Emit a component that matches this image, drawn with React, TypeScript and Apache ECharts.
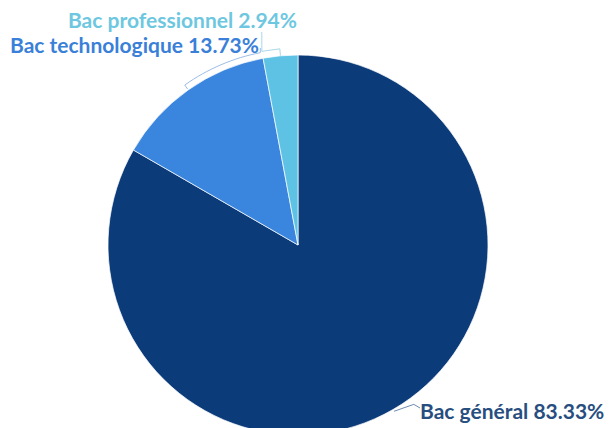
import React, { useEffect, useRef } from "react";
import * as echarts from "echarts";

const categories = ["Bac général", "Bac technologique", "Bac professionnel"];
const values = [83.33, 13.73, 2.94];
const sliceColors = ["#0c3b7a", "#3a86df", "#5ec2e4"];
const labelColors = ["#284e80", "#3a80d8", "#6ec7e0"];

const CX = 298;
const CY = 245;
const R = 190;

export default function App() {
  const ref = useRef<HTMLDivElement>(null);
  useEffect(() => {
    if (!ref.current) return;
    const chart = echarts.init(ref.current, undefined, { renderer: "svg" });
    const total = values.reduce((a, b) => a + b, 0);
    // angles in degrees (math convention), clockwise from 90
    const angles: { start: number; end: number; mid: number }[] = [];
    let a = 90;
    values.forEach((v) => {
      const span = (v / total) * 360;
      angles.push({ start: a, end: a - span, mid: a - span / 2 });
      a -= span;
    });
    const pt = (deg: number, r: number) => {
      const t = (deg * Math.PI) / 180;
      return [CX + r * Math.cos(t), CY - r * Math.sin(t)];
    };
    const arc = (from: number, to: number, r: number) => {
      const pts: number[][] = [];
      const n = 16;
      for (let i = 0; i <= n; i++) pts.push(pt(from + ((to - from) * i) / n, r));
      return pts;
    };
    const labelPos = [
      { x: 420, y: 410, align: "left" },
      { x: 10, y: 44, align: "left" },
      { x: 297, y: 19, align: "right" },
    ];
    const linePoints = (i: number) => {
      const g = angles[i];
      if (i === 0) {
        return [pt(g.mid, 192), pt(g.mid + 6, 197), [labelPos[0].x, labelPos[0].y - 2]];
      }
      if (i === 1) {
        const pts = arc(g.mid, g.end + 0.5, 196);
        const last = pts[pts.length - 1];
        return [pt(g.mid, 191), ...pts, [last[0], 48]];
      }
      const top = pt(g.start, 197);
      return [pt(g.mid, 189), pt(g.mid, 197), top, [top[0], 32]];
    };
    chart.setOption({
      animation: false,
      backgroundColor: "#ffffff",
      series: [
        {
          type: "pie",
          center: [CX, CY],
          radius: [0, R],
          startAngle: 90,
          clockwise: true,
          itemStyle: { borderColor: "rgba(255,255,255,0.7)", borderWidth: 1 },
          label: {
            show: true,
            formatter: (p: any) => `${p.name} ${p.value.toFixed(2)}%`,
            fontFamily: "Lato",
            fontWeight: "bold",
            fontSize: 21,
            overflow: "none",
          },
          labelLine: { show: true, length: 6, length2: 8, lineStyle: { width: 1 } },
          labelLayout: (params: any) => {
            const p = labelPos[params.dataIndex];
            return {
              x: p.x,
              y: p.y,
              align: p.align,
              verticalAlign: "middle",
              labelLinePoints: linePoints(params.dataIndex),
            };
          },
          data: categories.map((name, i) => ({
            name,
            value: values[i],
            itemStyle: { color: sliceColors[i] },
            label: { color: labelColors[i] },
            labelLine: { lineStyle: { color: i === 0 ? "#6d8bb0" : i === 1 ? "#9cbde6" : "#a9d9e8" } },
          })),
        },
      ],
    });
    return () => chart.dispose();
  }, []);
  return (
    <div
      ref={ref}
      style={{ position: "fixed", left: 0, top: 0, width: 610, height: 428 }}
    />
  );
}
